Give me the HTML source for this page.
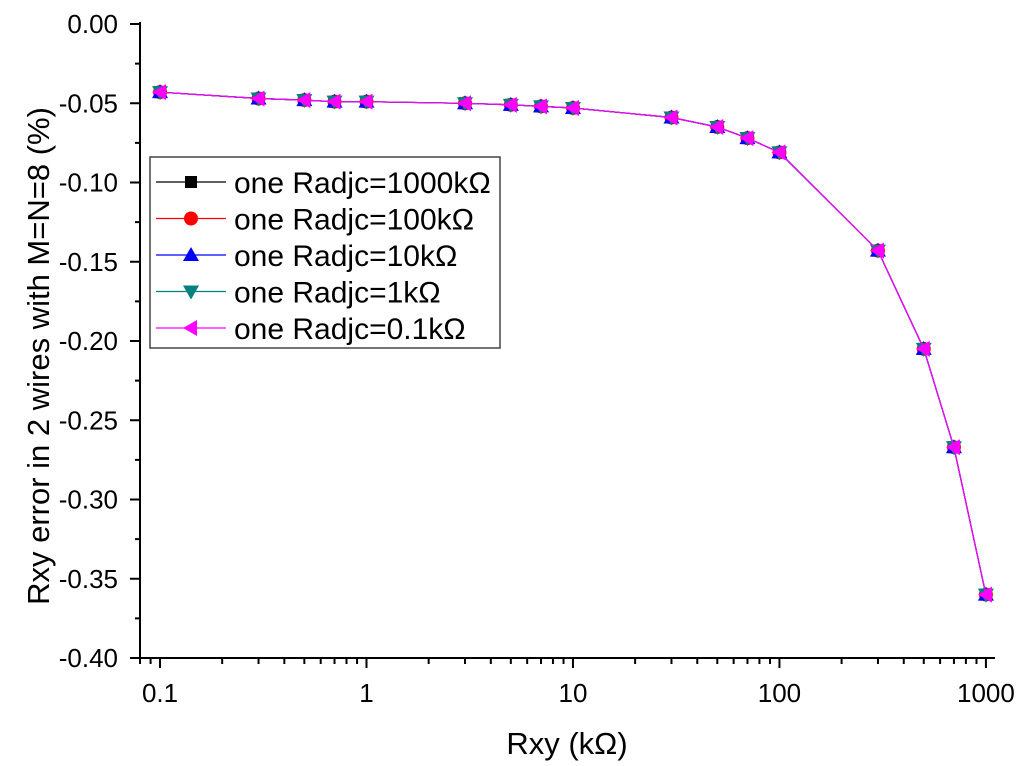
<!DOCTYPE html>
<html><head><meta charset="utf-8"><style>
body{margin:0;background:#fff;}
svg{display:block;font-family:"Liberation Sans",sans-serif;}
</style></head><body>
<svg width="1024" height="766">
<g id="axes"></g><g id="series"></g><g id="legend"></g>
</svg>
<script>
const xValues=[0.1,0.3,0.5,0.7,1,3,5,7,10,30,50,70,100,300,500,700,1000];
const series1000=[-0.043,-0.047,-0.048,-0.049,-0.049,-0.050,-0.051,-0.052,-0.053,-0.059,-0.065,-0.072,-0.081,-0.143,-0.205,-0.267,-0.360];
const series100=[-0.043,-0.047,-0.048,-0.049,-0.049,-0.050,-0.051,-0.052,-0.053,-0.059,-0.065,-0.072,-0.081,-0.143,-0.205,-0.267,-0.360];
const series10=[-0.043,-0.047,-0.048,-0.049,-0.049,-0.050,-0.051,-0.052,-0.053,-0.059,-0.065,-0.072,-0.081,-0.143,-0.205,-0.267,-0.360];
const series1=[-0.043,-0.047,-0.048,-0.049,-0.049,-0.050,-0.051,-0.052,-0.053,-0.059,-0.065,-0.072,-0.081,-0.143,-0.205,-0.267,-0.360];
const series01=[-0.043,-0.047,-0.048,-0.049,-0.049,-0.050,-0.051,-0.052,-0.053,-0.059,-0.065,-0.072,-0.081,-0.143,-0.205,-0.267,-0.360];
const yTicks=[0,-0.05,-0.10,-0.15,-0.20,-0.25,-0.30,-0.35,-0.40];
const yTickLabels=["0.00","-0.05","-0.10","-0.15","-0.20","-0.25","-0.30","-0.35","-0.40"];
const xTicks=[0.1,1,10,100,1000];
const xTickLabels=["0.1","1","10","100","1000"];
const seriesNames=["one Radjc=1000kΩ","one Radjc=100kΩ","one Radjc=10kΩ","one Radjc=1kΩ","one Radjc=0.1kΩ"];

const NS="http://www.w3.org/2000/svg";
const L=140,R=995,T=24,B=658;
const LX0=-1.097,LX1=3.044;
const xs=v=>L+(Math.log10(v)-LX0)/(LX1-LX0)*(R-L);
const ys=v=>T+(0-v)/0.40*(B-T);
function mk(tag,attrs,parent,text){const e=document.createElementNS(NS,tag);for(const k in attrs)e.setAttribute(k,attrs[k]);if(text!==undefined)e.textContent=text;parent.appendChild(e);return e;}
const axes=document.getElementById('axes');
let e;
e=mk('line',{x1:L,y1:T-2,x2:L,y2:B,stroke:'#000','stroke-width':2},axes);


e=mk('line',{x1:L,y1:B,x2:R,y2:B,stroke:'#000','stroke-width':2},axes);


yTicks.forEach((v,i)=>{
 const y=ys(v);
 mk('line',{x1:L-10,y1:y,x2:L,y2:y,stroke:'#000','stroke-width':2},axes);
 if(i<yTicks.length-1){const ym=ys(v-0.025);mk('line',{x1:L-5,y1:ym,x2:L,y2:ym,stroke:'#000','stroke-width':2},axes);}
 const t=mk('text',{x:L-22,y:y+9,'text-anchor':'end','font-size':26},axes,yTickLabels[i]);
 
 
});
for(let d=-2;d<=3;d++){for(let m=1;m<10;m++){const v=m*Math.pow(10,d);const x=xs(v);if(x<L-0.5||x>R+0.5)continue;
 const major=m===1;mk('line',{x1:x,y1:B,x2:x,y2:B+(major?10:6),stroke:'#000','stroke-width':2},axes);}}
xTicks.forEach((v,i)=>{const t=mk('text',{x:xs(v),y:B+44,'text-anchor':'middle','font-size':26},axes,xTickLabels[i]);
 
 });
e=mk('text',{x:567,y:754,'text-anchor':'middle','font-size':31},axes,'Rxy (kΩ)');


e=mk('text',{x:0,y:0,'text-anchor':'middle','font-size':31,transform:'translate(49,356) rotate(-90)'},axes,'Rxy error in 2 wires with M=N=8 (%)');



const colors=['#000','#ff0000','#0000ff','#008080','#ff00ff'];
const allSeries=[series1000,series100,series10,series1,series01];
function marker(k,x,y,p,s){
 if(k===0)return mk('rect',{x:x-s,y:y-s,width:2*s,height:2*s,fill:colors[0]},p);
 if(k===1)return mk('circle',{cx:x,cy:y,r:s+1,fill:colors[1]},p);
 if(k===2)return mk('polygon',{points:`${x},${y-s-2} ${x+s+2},${y+s} ${x-s-2},${y+s}`,fill:colors[2]},p);
 if(k===3)return mk('polygon',{points:`${x},${y+s+2} ${x+s+2},${y-s} ${x-s-2},${y-s}`,fill:colors[3]},p);
 return mk('polygon',{points:`${x-s-2},${y} ${x+s},${y-s-2} ${x+s},${y+s+2}`,fill:colors[4]},p);
}
const sg=document.getElementById('series');
allSeries.forEach((d,k)=>{
 const g=mk('g',{},sg);
 
 
 const pts=d.map((v,i)=>xs(xValues[i]).toFixed(1)+','+ys(v).toFixed(1)).join(' ');
 mk('polyline',{points:pts,fill:'none',stroke:colors[k],'stroke-width':1.2},g);
 d.forEach((v,i)=>{const m=marker(k,xs(xValues[i]),ys(v),g,6);
  
  });
});

const lg=document.getElementById('legend');


mk('rect',{x:150,y:157,width:350,height:191,fill:'#fff',stroke:'#444','stroke-width':1.5},lg);
seriesNames.forEach((n,k)=>{
 const y=182+k*36.5;
 const g=mk('g',{},lg);
 
 
 mk('line',{x1:156,y1:y,x2:226,y2:y,stroke:colors[k],'stroke-width':1.2},g);
 marker(k,191,y,g,6);
 mk('text',{x:234,y:y+11,'font-size':30},g,n);
});
</script>
</body></html>
